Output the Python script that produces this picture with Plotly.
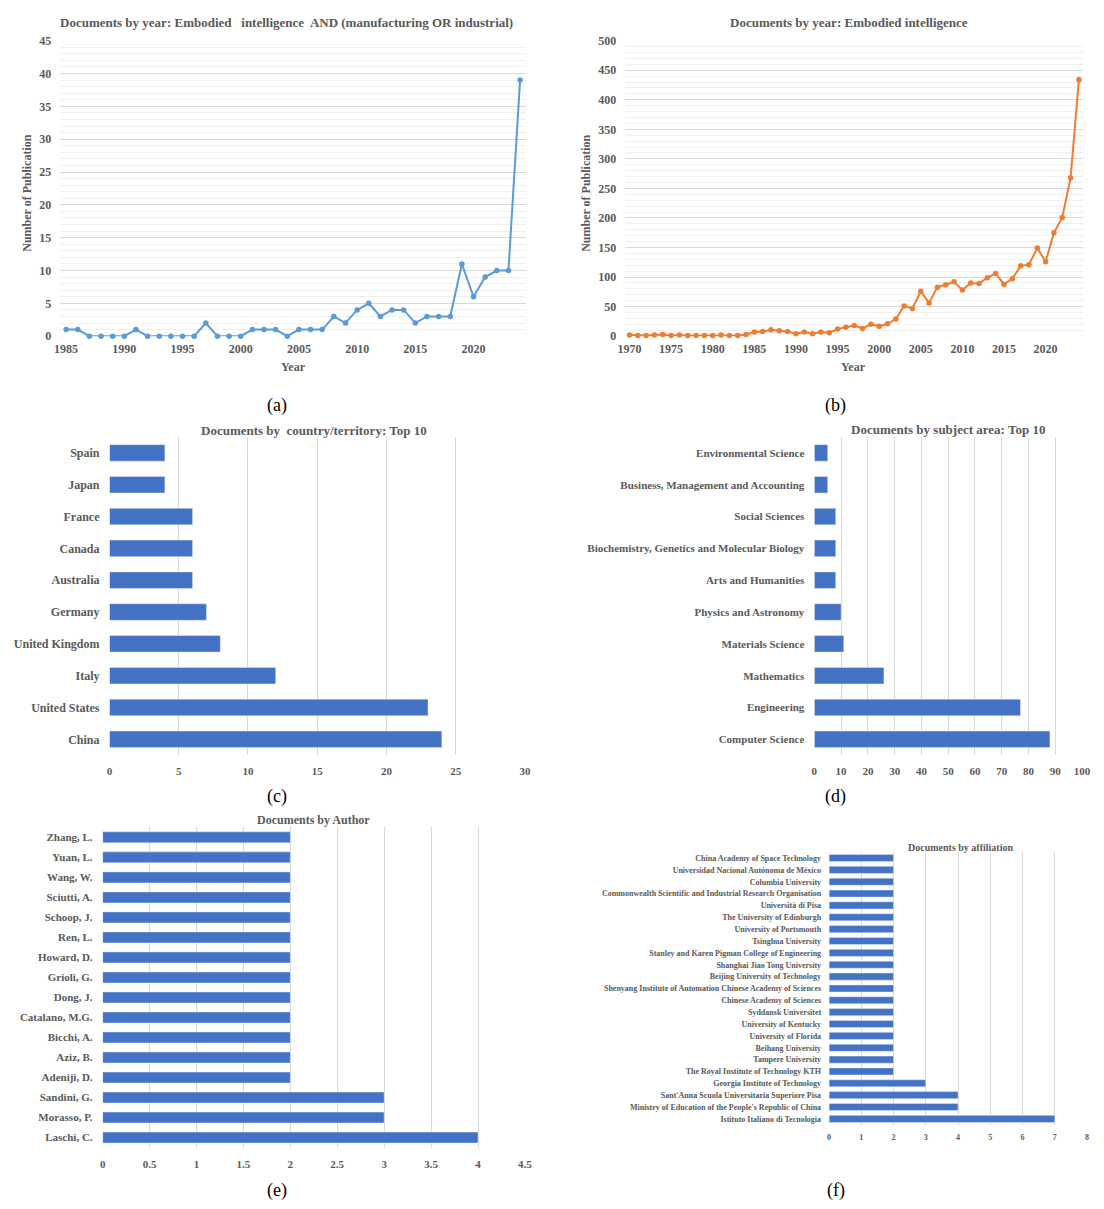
import plotly.graph_objects as go

# ---------------- data ----------------
years_a = list(range(1985, 2025))
pubs_a = [1, 1, 0, 0, 0, 0, 1, 0, 0, 0, 0, 0, 2, 0, 0, 0, 1, 1, 1, 0,
          1, 1, 1, 3, 2, 4, 5, 3, 4, 4, 2, 3, 3, 3, 11, 6, 9, 10, 10, 39]

years_b = list(range(1970, 2025))
pubs_b = [2, 1, 1, 2, 3, 1, 2, 1, 1, 1, 1, 2, 1, 1, 3, 7, 8, 11, 9, 8,
          4, 7, 4, 7, 6, 12, 15, 18, 13, 20, 17, 21, 29, 51, 47, 76, 56, 83, 87, 92,
          78, 90, 89, 99, 106, 88, 97, 119, 121, 149, 126, 175, 201, 268, 434]

countries = ["Spain", "Japan", "France", "Canada", "Australia", "Germany",
             "United Kingdom", "Italy", "United States", "China"]
country_docs = [4, 4, 6, 6, 6, 7, 8, 12, 23, 24]

subjects = ["Environmental Science", "Business, Management and Accounting",
            "Social Sciences", "Biochemistry, Genetics and Molecular Biology",
            "Arts and Humanities", "Physics and Astronomy", "Materials Science",
            "Mathematics", "Engineering", "Computer Science"]
subject_docs = [5, 5, 8, 8, 8, 10, 11, 26, 77, 88]

authors = ["Zhang, L.", "Yuan, L.", "Wang, W.", "Sciutti, A.", "Schoop, J.",
           "Ren, L.", "Howard, D.", "Grioli, G.", "Dong, J.", "Catalano, M.G.",
           "Bicchi, A.", "Aziz, B.", "Adeniji, D.", "Sandini, G.", "Morasso, P.",
           "Laschi, C."]
author_docs = [2, 2, 2, 2, 2, 2, 2, 2, 2, 2, 2, 2, 2, 3, 3, 4]

affiliations = ["China Academy of Space Technology",
                "Universidad Nacional Autónoma de México",
                "Columbia University",
                "Commonwealth Scientific and Industrial Research Organisation",
                "Università di Pisa",
                "The University of Edinburgh",
                "University of Portsmouth",
                "Tsinghua University",
                "Stanley and Karen Pigman College of Engineering",
                "Shanghai Jiao Tong University",
                "Beijing University of Technology",
                "Shenyang Institute of Automation Chinese Academy of Sciences",
                "Chinese Academy of Sciences",
                "Syddansk Universitet",
                "University of Kentucky",
                "University of Florida",
                "Beihang University",
                "Tampere University",
                "The Royal Institute of Technology KTH",
                "Georgia Institute of Technology",
                "Sant'Anna Scuola Universitaria Superiore Pisa",
                "Ministry of Education of the People's Republic of China",
                "Istituto Italiano di Tecnologia"]
affil_docs = [2] * 19 + [3, 4, 4, 7]

# ---------------- styling ----------------
PAGE_W, PAGE_H = 1104, 1209
OFF = 8  # default body margin of the html page
W, H = PAGE_W - 2 * OFF, PAGE_H - 2 * OFF
FONT = "Liberation Serif, Times New Roman, serif"
GRAY = "#595959"
GRID = "#d9d9d9"
MINOR = "#efefef"
BAR = "#4472C4"


def px(x):
    return (x - OFF) / W


def py(y):
    return 1 - (y - OFF) / H


def dx(a, b):
    return [max(0.0, min(1.0, px(a))), max(0.0, min(1.0, px(b)))]


def dy(a, b):
    return [max(0.0, min(1.0, py(a))), max(0.0, min(1.0, py(b)))]


fig = go.Figure()

# (a) line
fig.add_trace(go.Scatter(x=years_a, y=pubs_a, mode="lines+markers",
                         line=dict(color="#5B9BD5", width=2),
                         marker=dict(size=5.5, color="#5B9BD5"),
                         xaxis="x", yaxis="y", showlegend=False, cliponaxis=False))
# (b) line
fig.add_trace(go.Scatter(x=years_b, y=pubs_b, mode="lines+markers",
                         line=dict(color="#ED7D31", width=2),
                         marker=dict(size=5.5, color="#ED7D31"),
                         xaxis="x2", yaxis="y2", showlegend=False, cliponaxis=False))
# (c) bars
fig.add_trace(go.Bar(x=country_docs, y=countries, orientation="h",
                     marker=dict(color=BAR), width=0.52,
                     xaxis="x3", yaxis="y3", showlegend=False))
# (d) bars
fig.add_trace(go.Bar(x=subject_docs, y=subjects, orientation="h",
                     marker=dict(color=BAR), width=0.52,
                     xaxis="x4", yaxis="y4", showlegend=False))
# (e) bars
fig.add_trace(go.Bar(x=author_docs, y=authors, orientation="h",
                     marker=dict(color=BAR), width=0.55,
                     xaxis="x5", yaxis="y5", showlegend=False))
# (f) bars
fig.add_trace(go.Bar(x=affil_docs, y=affiliations, orientation="h",
                     marker=dict(color=BAR), width=0.6,
                     xaxis="x6", yaxis="y6", showlegend=False))


def tickfont(size):
    return dict(family=FONT, size=size, color=GRAY, weight="bold")


def line_x(dom, rng, anchor):
    return dict(domain=dom, range=rng, anchor=anchor, tickmode="array",
                tickvals=list(range(int(rng[0] + 0.5), int(rng[1]) + 1, 5)),
                showgrid=False, zeroline=False, showline=False,
                tickfont=tickfont(12), ticks="", ticklabelstandoff=4)


def line_y(dom, rng, dtick, minor, anchor):
    return dict(domain=dom, range=rng, anchor=anchor, dtick=dtick,
                showgrid=True, gridcolor=GRID, gridwidth=1, zeroline=False,
                showline=False, tickfont=tickfont(12), ticks="",
                ticklabelstandoff=8,
                minor=dict(dtick=minor, showgrid=True, gridcolor=MINOR, gridwidth=1))


def bar_x(dom, rng, dtick, anchor, size, standoff):
    return dict(domain=dom, range=rng, anchor=anchor, dtick=dtick,
                showgrid=True, gridcolor=GRID, gridwidth=1, zeroline=False,
                showline=False, tickfont=tickfont(size), ticks="",
                ticklabelstandoff=standoff)


def bar_y(dom, n, anchor, size, standoff):
    return dict(domain=dom, range=[n - 0.5, -0.5], anchor=anchor,
                type="category", showgrid=False, zeroline=False,
                showline=False, tickfont=tickfont(size), ticks="",
                ticklabelstandoff=standoff)


fig.update_layout(
    width=W, height=H, autosize=False,
    margin=dict(l=0, r=0, t=0, b=0),
    paper_bgcolor="white", plot_bgcolor="white",
    xaxis=line_x(dx(53, 526), [1984.5, 2024.5], "y"),
    yaxis=line_y(dy(333, 34), [0, 45], 5, 1, "x"),
    xaxis2=line_x(dx(627, 1092), [1969.5, 2024.5], "y2"),
    yaxis2=line_y(dy(333, 34), [0, 500], 50, 10, "x2"),
    xaxis3=bar_x(dx(103, 525), [0, 30], 5, "y3", 11, 8),
    yaxis3=bar_y(dy(757, 435), len(countries), "x3", 12, 9),
    xaxis4=bar_x(dx(819, 1091), [0, 100], 10, "y4", 11, 8),
    yaxis4=bar_y(dy(757, 435), len(subjects), "x4", 11, 9),
    xaxis5=bar_x(dx(96, 525), [0, 4.5], 0.5, "y5", 11, 8),
    yaxis5=bar_y(dy(1154, 830), len(authors), "x5", 11, 9),
    xaxis6=bar_x(dx(834, 1096), [0, 8], 1, "y6", 8, 6),
    yaxis6=bar_y(dy(1131, 855), len(affiliations), "x6", 8, 7),
)

ann = []


def text(x, y, s, size, color=GRAY, bold=True, angle=0, xanchor="center"):
    ann.append(dict(x=px(x), y=py(y), xref="paper", yref="paper", text=s,
                    showarrow=False, textangle=angle, xanchor=xanchor, yanchor="middle",
                    font=dict(family=FONT, size=size, color=color,
                              weight="bold" if bold else "normal")))


# panel titles
text(283, 16, "Documents by year: Embodied&nbsp;&nbsp; intelligence&nbsp; AND (manufacturing OR industrial)", 13)
text(854, 16, "Documents by year: Embodied intelligence", 13)
text(311, 428, "Documents by&nbsp; country/territory: Top 10", 13)
text(955, 427, "Documents by subject area: Top 10", 13)
text(310, 823, "Documents by Author", 12)
text(967, 850, "Documents by affiliation", 10)

# axis titles
text(19, 188, "Number of Publication", 12, angle=-90)
text(587, 188, "Number of Publication", 12, angle=-90)
text(290, 364, "Year", 12)
text(859, 364, "Year", 12)

# captions
for cx, cy, s in [(273, 403, "(a)"), (841, 403, "(b)"), (273, 799, "(c)"),
                  (841, 799, "(d)"), (273, 1197, "(e)"), (841, 1197, "(f)")]:
    text(cx, cy, s, 18, color="#000000", bold=False)

fig.update_layout(annotations=ann)

fig.write_html("out.html", config={"displayModeBar": False})
